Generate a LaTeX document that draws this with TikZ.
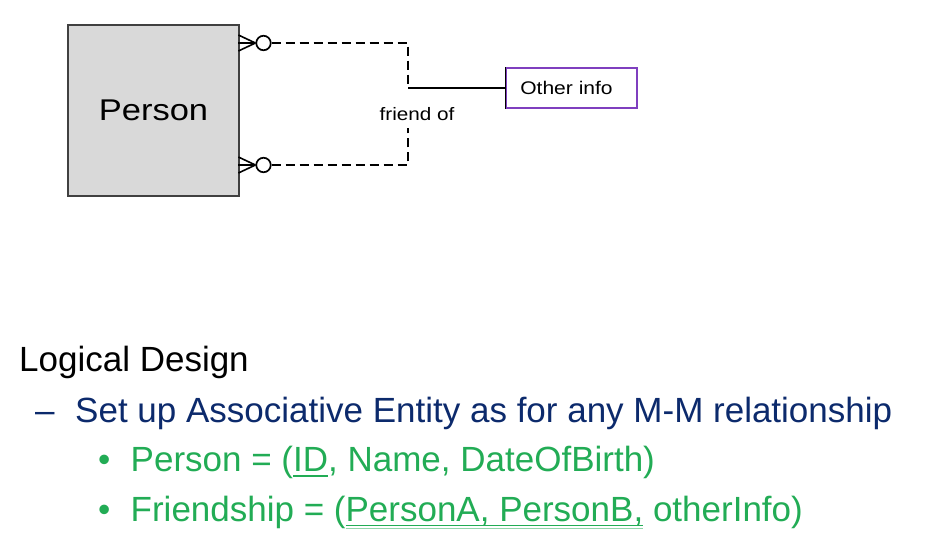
\documentclass[tikz,border=0pt]{standalone}
\usepackage{fontspec}
\setmainfont{Liberation Sans}
\newfontfamily\wideface{Liberation Sans}[FakeStretch=1.15]
\definecolor{boxgray}{HTML}{D9D9D9}
\definecolor{infoline}{HTML}{7F3FBF}
\definecolor{headnavy}{HTML}{0C2A6C}
\definecolor{pointgreen}{HTML}{22AC55}
\newcommand{\keyline}[1]{\setbox0\hbox{#1}\rlap{\copy0}\rule[-5.5pt]{\wd0}{1.5pt}}
\newcommand{\keyboth}[1]{\setbox0\hbox{#1}\rlap{\copy0}\rlap{\rule[-5pt]{\wd0}{1.4pt}}{\color{pointgreen!50}\rule[-8pt]{\wd0}{1.4pt}}}

\begin{document}
\begin{tikzpicture}[x=1pt,y=-1pt,
	entity/.style={draw=black!75, line width=1.6pt, fill=boxgray, minimum width=171pt, minimum height=171pt, inner sep=0pt},
	optring/.style={circle, draw, line width=1.7pt, minimum size=14.5pt, inner sep=0pt, fill=white},
	reldash/.style={line width=1.8pt, dash pattern=on 9pt off 5pt},
	slide/.style={anchor=base west, inner sep=0pt, font=\fontsize{35}{41}\selectfont}]
		\useasboundingbox (0,0) rectangle (944,558);
		\node[entity, font=\wideface\fontsize{30}{34}\selectfont] (person) at (153.5,110.5) {Person};
		\node[optring] (ringA) at (263.5,43) {};
		\node[optring] (ringB) at (263.5,165) {};
		\foreach \dy in {-8,0,8} {
			\path [draw, line width=1.6pt] (ringA.west) -- ++(-17,\dy);
			\path [draw, line width=1.6pt] (ringB.west) -- ++(-17,\dy);
		}
		\coordinate (bendA) at (408,88);
		\coordinate (bendB) at (408,128);
		\draw[reldash] (ringA) -| (bendA);
		\draw[reldash] (ringB) -| (bendB);
		\node[anchor=base, font=\wideface\fontsize{18}{22}\selectfont] (friend) at (417,120) {friend of};
		\node[draw=infoline, line width=1.1pt, minimum width=131pt, minimum height=40pt, inner xsep=0pt,
			font=\wideface\fontsize{18.3}{22}\selectfont] (info) at (571.5,88) {Other info\rule{10pt}{0pt}};
		\draw[line width=1.3pt] (bendA) -- (info);
		\draw[line width=1.6pt] (info.north west) -- (info.south west);
		\node[slide] (logical) at (19,371) {Logical Design};
		\node[slide, text=headnavy] (dash) at (35,422) {–};
		\node[slide, text=headnavy] (setup) at (75,422) {Set up Associative Entity as for any M-M relationship};
		\node[slide, text=pointgreen] (dotA) at (98,471) {•};
		\node[slide, text=pointgreen] (pkeys) at (130.5,471) {Person = (\keyline{ID}, Name, DateOfBirth)};
		\node[slide, text=pointgreen] (dotB) at (98,521) {•};
		\node[slide, text=pointgreen] (fkeys) at (130.5,521) {Friendship = (\keyboth{PersonA, PersonB,} otherInfo)};
	\end{tikzpicture}
\end{document}
